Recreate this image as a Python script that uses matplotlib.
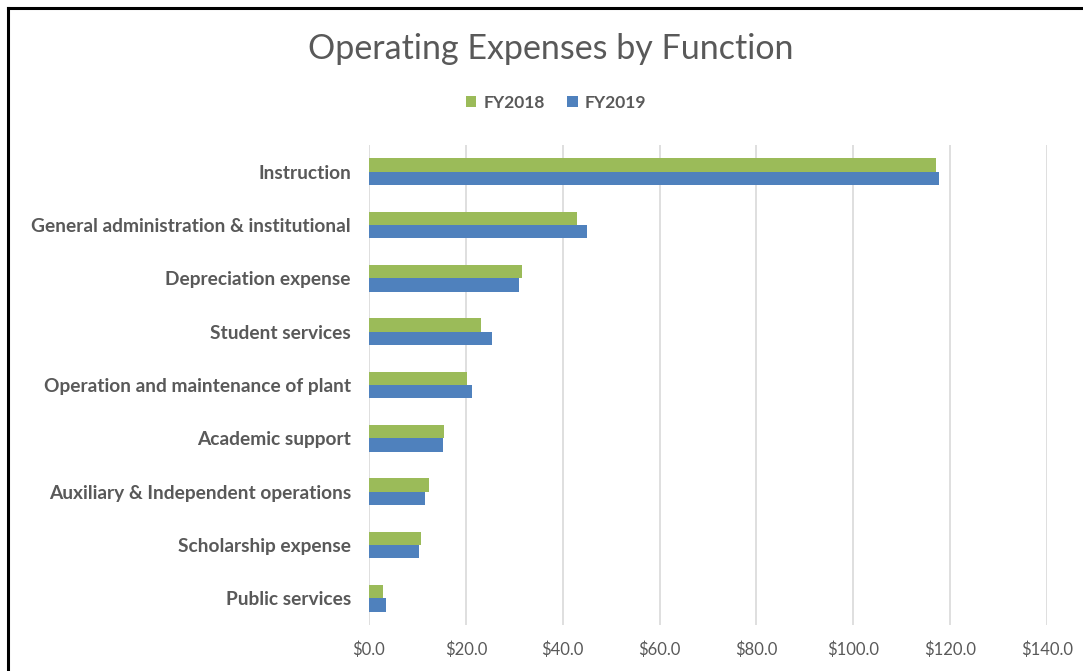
import matplotlib
matplotlib.use("Agg")
import matplotlib.pyplot as plt
from matplotlib.lines import Line2D
from matplotlib.ticker import FuncFormatter
import numpy as np

categories = ["Instruction", "General administration & institutional", "Depreciation expense",
              "Student services", "Operation and maintenance of plant", "Academic support",
              "Auxiliary & Independent operations", "Scholarship expense", "Public services"]
fy2018 = [117.0, 43.0, 31.6, 23.2, 20.3, 15.5, 12.4, 10.8, 2.8]
fy2019 = [117.6, 45.0, 31.0, 25.4, 21.2, 15.2, 11.6, 10.4, 3.6]
series_names = ["FY2018", "FY2019"]
xticks = [0, 20, 40, 60, 80, 100, 120, 140]

GREEN = "#9BBB59"
BLUE = "#4F81BD"
GRAY = "#595959"
FONT = ["Lato", "DejaVu Sans"]

W, H = 1083, 671
fig = plt.figure(figsize=(W / 100, H / 100), dpi=100)
fig.patch.set_facecolor("white")

ax = fig.add_axes([369 / W, 1 - 625 / H, (1047 - 369) / W, (625 - 145) / H])
n = len(categories)
y = np.arange(n)
h = 0.25
ax.barh(y - h / 2, fy2018, height=h, color=GREEN, label=series_names[0], zorder=3)
ax.barh(y + h / 2, fy2019, height=h, color=BLUE, label=series_names[1], zorder=3)
ax.set_ylim(n - 0.5, -0.5)
ax.set_xlim(0, 140)
ax.set_xticks(xticks)
ax.xaxis.set_major_formatter(FuncFormatter(lambda v, p: f"${v:.1f}"))
ax.set_yticks(y)
ax.set_yticklabels(categories)
for lab in ax.get_yticklabels():
    lab.set_fontfamily(FONT)
    lab.set_fontweight("bold")
    lab.set_fontsize(13.8)
    lab.set_color(GRAY)
for lab in ax.get_xticklabels():
    lab.set_fontfamily(FONT)
    lab.set_fontsize(12)
    lab.set_color(GRAY)
ax.tick_params(axis="both", length=0)
ax.tick_params(axis="y", pad=13)
ax.tick_params(axis="x", pad=12)
ax.grid(axis="x", color="#D9D9D9", linewidth=1.2, zorder=0)
for s in ax.spines.values():
    s.set_visible(False)

fig.text(551 / W, 1 - 49 / H, "Operating Expenses by Function", ha="center", va="center",
         fontsize=24.5, color=GRAY, family=FONT)
leg = fig.legend(loc="center", bbox_to_anchor=(556 / W, 1 - 103 / H), ncol=2, frameon=False,
                 prop={"family": FONT, "weight": "bold", "size": 12.5},
                 handlelength=0.6, handleheight=0.6, handletextpad=0.4, columnspacing=1.3)
for t in leg.get_texts():
    t.set_color(GRAY)

# outer black frame (left and top)
fig.add_artist(Line2D([8 / W, 8 / W], [0, 1 - 8 / H], color="black", linewidth=2.2,
                      transform=fig.transFigure))
fig.add_artist(Line2D([8 / W, 1], [1 - 8 / H, 1 - 8 / H], color="black", linewidth=2.2,
                      transform=fig.transFigure))

fig.savefig("out.png", dpi=100)
